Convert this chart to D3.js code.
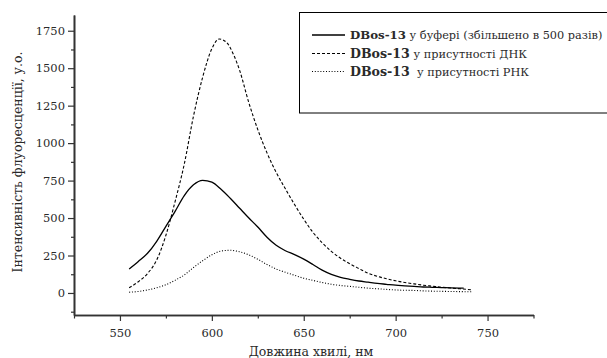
<!DOCTYPE html>
<html><head><meta charset="utf-8">
<script src="https://cdn.jsdelivr.net/npm/d3@7"></script>
<style>body{margin:0;background:#fff}svg{display:block}text{font-family:"DejaVu Serif",serif;fill:#2a2a2a}</style>
</head><body><svg id="c" width="607" height="358"></svg>
<script>
const bufferX = [555,560,565,570,575,580,585,590,595,600,605,610,615,620,625,630,635,640,645,650,655,660,665,670,675,680,685,690,695,700,705,710,715,720,725,730,737];
const bufferY = [160,210,265,345,445,545,650,722,752,740,692,632,567,502,440,372,318,282,256,226,190,152,124,104,91,80,72,64,58,52,48,44,40,38,36,34,32];
const dnaX = [555,560,565,570,575,580,585,590,595,600,604,608,612,615,620,625,630,635,640,645,650,655,660,665,670,675,680,685,690,695,700,705,710,715,720,725,730,735,742];
const dnaY = [35,75,130,220,385,610,860,1180,1440,1630,1695,1672,1585,1490,1275,1090,935,805,695,590,492,405,335,278,232,195,163,132,111,95,81,70,61,52,45,38,33,28,20];
const rnaX = [555,560,565,570,575,580,585,590,595,600,605,610,615,620,625,630,635,640,645,650,655,660,665,670,675,680,685,690,695,700,705,710,715,720,725,730,735,742];
const rnaY = [5,10,20,35,55,85,120,170,215,255,280,285,275,255,225,190,160,138,118,98,84,70,58,50,44,38,32,28,24,20,18,17,14,12,11,10,9,8];
const xTicks = [550,600,650,700,750];
const yTicks = [0,250,500,750,1000,1250,1500,1750];
const legendLabels = ["у буфері (збільшено в 500 разів)","у присутності ДНК"," у присутності РНК"];
const legendBold = "DBos-13";

const svg = d3.select("#c");
const x = d3.scaleLinear().domain([525,775]).range([74,533.5]);
const y = d3.scaleLinear().domain([-147,1855]).range([315,15]);

// axes
const xAxis = d3.axisBottom(x).tickValues(xTicks).tickSize(6).tickSizeOuter(0).tickPadding(8).tickFormat(d3.format("d"));
svg.append("g").attr("transform","translate(0,315)").call(xAxis);
const xMinor = d3.axisBottom(x).tickValues([525,575,625,675,725,775]).tickSize(3.5).tickSizeOuter(0).tickFormat("");
svg.append("g").attr("transform","translate(0,315)").call(xMinor);
const yAxis = d3.axisLeft(y).tickValues(yTicks).tickSize(6).tickSizeOuter(0).tickPadding(3).tickFormat(d3.format("d"));
svg.append("g").attr("transform","translate(74,0)").call(yAxis);
const yMinor = d3.axisLeft(y).tickValues([-125,125,375,625,875,1125,1375,1625]).tickSize(3).tickSizeOuter(0).tickFormat("");
svg.append("g").attr("transform","translate(74,0)").call(yMinor);
svg.selectAll(".domain").attr("stroke","#333").attr("stroke-width",1.6);
svg.selectAll(".tick line").attr("stroke","#333").attr("stroke-width",1.2);
svg.selectAll(".tick text").attr("font-size",11.5);

// axis titles
svg.append("text").attr("x",311).attr("y",356).attr("text-anchor","middle").attr("font-size",12.5).text("Довжина хвилі, нм");
svg.append("text").attr("transform","translate(22,162) rotate(-90)").attr("text-anchor","middle").attr("font-size",12.5).text("Інтенсивність флуоресценції, у.о.");

// lines
const line = d3.line().x(d=>x(d[0])).y(d=>y(d[1])).curve(d3.curveMonotoneX);
const series = [
  {xs:bufferX, ys:bufferY, dash:null, w:1.3},
  {xs:dnaX, ys:dnaY, dash:"3,2", w:1.1},
  {xs:rnaX, ys:rnaY, dash:"1,1.8", w:1.1}
];
series.forEach(s=>{
  const pts = s.xs.map((v,i)=>[v,s.ys[i]]);
  svg.append("path").attr("d",line(pts)).attr("fill","none").attr("stroke","#000")
    .attr("stroke-width",s.w).attr("stroke-dasharray",s.dash);
});

// legend
svg.append("rect").attr("x",299.5).attr("y",12.5).attr("width",320).attr("height",100.5)
  .attr("fill","none").attr("stroke","#000").attr("stroke-width",1);
const ly = [35,53.5,71.5];
series.forEach((s,i)=>{
  svg.append("line").attr("x1",312).attr("x2",345).attr("y1",ly[i]).attr("y2",ly[i])
    .attr("stroke","#000").attr("stroke-width",i===0?1.3:1).attr("stroke-dasharray",s.dash);
  const t = svg.append("text").attr("x",350).attr("y",ly[i]+4).attr("font-size",11.3).attr("xml:space","preserve");
  t.append("tspan").attr("font-weight","bold").attr("font-size",i===0?11.8:12.6).text(legendBold);
  t.append("tspan").text(" "+legendLabels[i]);
});
</script></body></html>
